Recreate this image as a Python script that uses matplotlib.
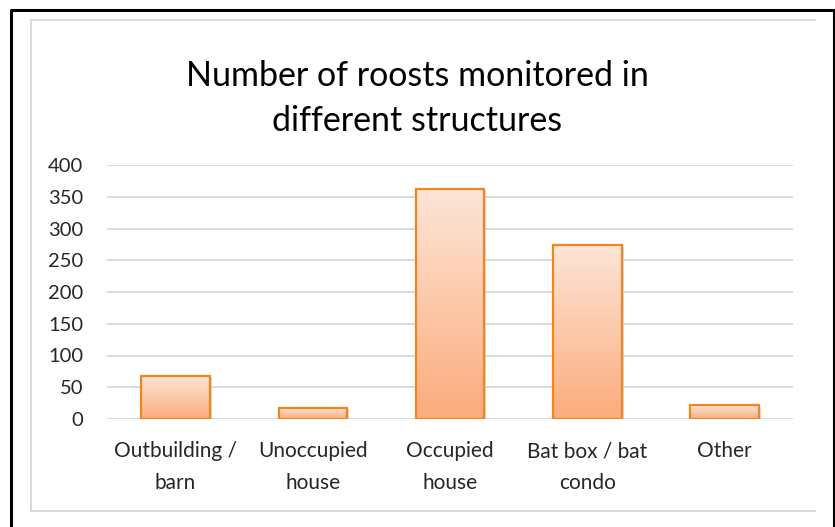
import numpy as np
import matplotlib
matplotlib.use("Agg")
import matplotlib.pyplot as plt
from matplotlib.lines import Line2D
from matplotlib.colors import LinearSegmentedColormap
from matplotlib.transforms import ScaledTranslation

# data
categorias = ["Outbuilding /\nbarn", "Unoccupied\nhouse", "Occupied\nhouse",
              "Bat box / bat\ncondo", "Other"]
valores = [68, 18, 362, 274, 22]
yticks = [0, 50, 100, 150, 200, 250, 300, 350, 400]

W, H = 835, 527
plt.rcParams['font.family'] = ['Lato', 'DejaVu Sans']

fig = plt.figure(figsize=(W/100, H/100), dpi=100)

def fx(px):
    return px / W

def fy(py):
    return 1 - py / H

ax = fig.add_axes([fx(107), fy(419), fx(793) - fx(107), fy(165) - fy(419)])

x = np.arange(len(categorias))

# sombra leve atras das barras
sombra = ax.transData + ScaledTranslation(1.5/72, -1.2/72, fig.dpi_scale_trans)
ax.bar(x, valores, width=0.5, color='#9A9A9A', alpha=0.35, linewidth=0,
       transform=sombra, zorder=1.5)

barras = ax.bar(x, valores, width=0.5, facecolor='none', edgecolor='#F08620',
                linewidth=1.6, zorder=3)

# gradiente dentro das barras
cmap = LinearSegmentedColormap.from_list('pessego', ['#FBAC7C', '#FDE5D7'])
grad = np.linspace(0, 1, 256).reshape(-1, 1)
for b in barras:
    x0, y0 = b.get_x(), b.get_y()
    w, h = b.get_width(), b.get_height()
    im = ax.imshow(grad, cmap=cmap, origin='lower', aspect='auto',
                   extent=[x0, x0 + w, y0, y0 + h], zorder=2)
    im.set_clip_path(b)

ax.set_xlim(-0.5, len(categorias) - 0.5)
ax.set_ylim(0, 400)
ax.set_yticks(yticks)
ax.set_xticks(x)
ax.set_xticklabels(categorias, fontsize=15, color='#262626', linespacing=1.75)
ax.tick_params(axis='y', labelsize=14.5, labelcolor='#262626', length=0, pad=17)
ax.tick_params(axis='x', length=0, pad=16)
ax.grid(axis='y', color='#D9D9D9', linewidth=1.4, zorder=0)
for s in ax.spines.values():
    s.set_visible(False)

fig.text(0.5, fy(86), "Number of roosts monitored in", ha='center', va='baseline',
         fontsize=24.5, color='black')
fig.text(0.5, fy(131), "different structures", ha='center', va='baseline',
         fontsize=24.5, color='black')

# bordas
fig.add_artist(Line2D([fx(31), fx(31), fx(815)], [fy(511), fy(20), fy(20)],
                      color='#D9D9D9', linewidth=1.4))
fig.add_artist(Line2D([fx(31), fx(815)], [fy(511), fy(511)],
                      color='#D9D9D9', linewidth=1.4))
fig.add_artist(Line2D([fx(10.5), fx(10.5), fx(833.5), fx(833.5)],
                      [fy(527), fy(9.5), fy(9.5), fy(527)],
                      color='black', linewidth=2.2))

fig.savefig("out.png", dpi=100)
